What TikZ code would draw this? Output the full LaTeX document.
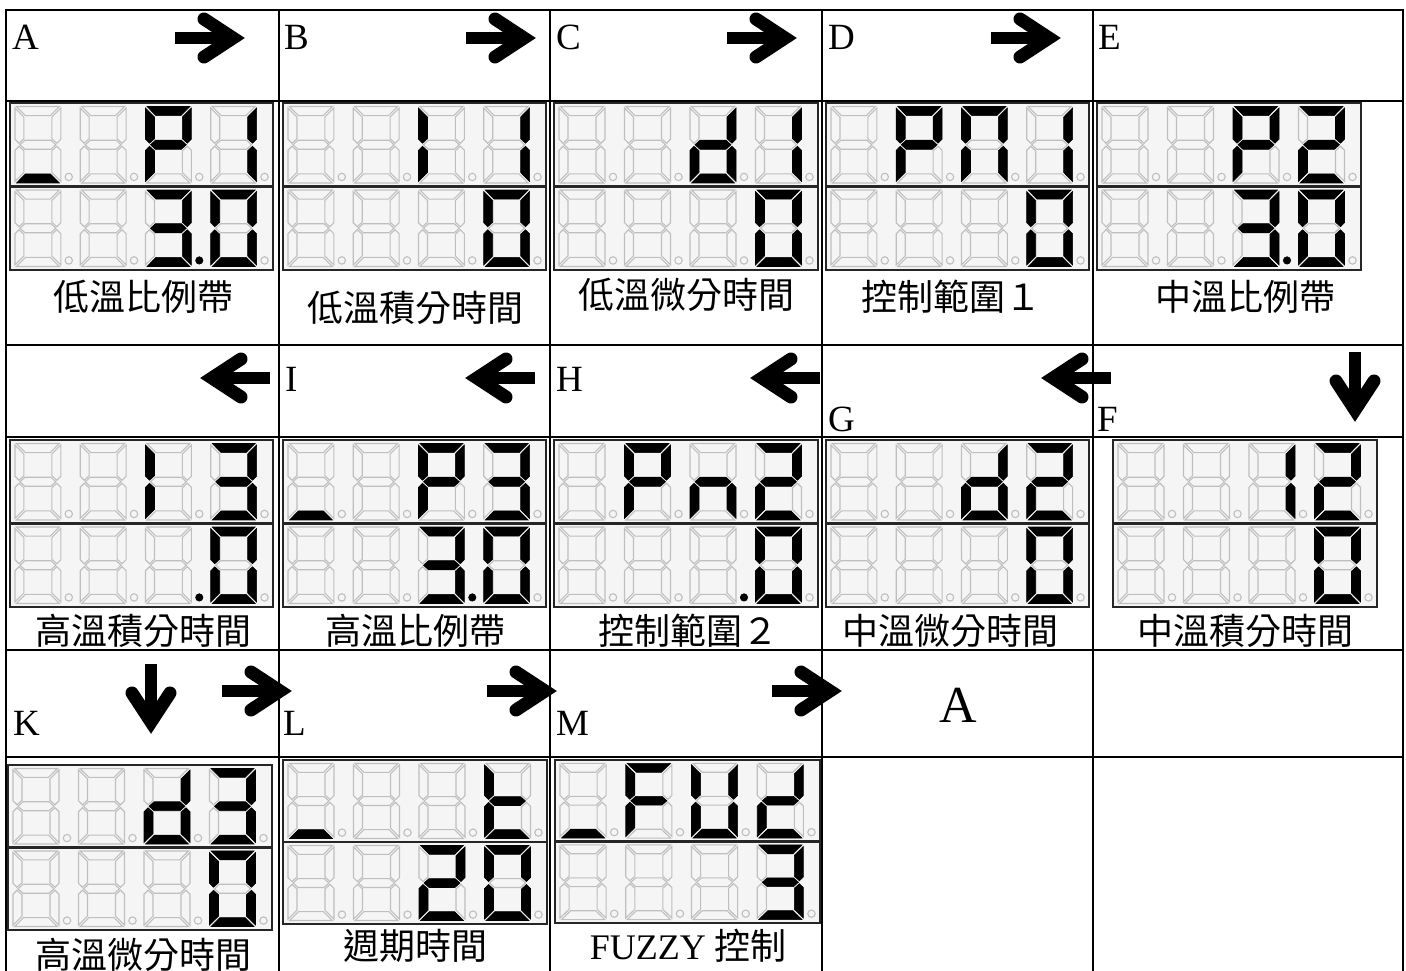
\documentclass[tikz,border=0pt]{standalone}
\usepackage{fontspec}
\setmainfont{Liberation Serif}
\newfontfamily\cjk{Noto Sans CJK TC}
\makeatletter
\newcommand\lcdsg[3]{\in@{#1}{#2}\ifin@\tikzset{segcur/.style={segon}}\else\tikzset{segcur/.style={segoff}}\fi\path[segcur] #3;}
\makeatother
\newcommand\lcddigit[3]{\begin{scope}[shift={(#1,#2)}]
\lcdsg{a}{#3}{(1.5,0)--(44.5,0)--(35.5,9)--(10.5,9)--cycle}
\lcdsg{b}{#3}{(46,1.5)--(37,10.5)--(37,32)--(42,36.5)--(46,32.5)--cycle}
\lcdsg{c}{#3}{(46,74.5)--(37,65.5)--(37,44)--(42,39.5)--(46,43.5)--cycle}
\lcdsg{d}{#3}{(1.5,76)--(44.5,76)--(35.5,67)--(10.5,67)--cycle}
\lcdsg{e}{#3}{(0,74.5)--(9,65.5)--(9,44)--(4,39.5)--(0,43.5)--cycle}
\lcdsg{f}{#3}{(0,1.5)--(9,10.5)--(9,32)--(4,36.5)--(0,32.5)--cycle}
\lcdsg{g}{#3}{(5,38)--(10,33.5)--(36,33.5)--(41,38)--(36,42.5)--(10,42.5)--cycle}
\lcdsg{p}{#3}{(54,70) circle[radius=3.7]}
\end{scope}}
\newcommand\lcdrow[2]{\lcdrowi{#1}#2\relax}
\def\lcdrowi#1#2/#3/#4/#5\relax{\lcddigit{5}{#1}{#2}\lcddigit{70.5}{#1}{#3}\lcddigit{136}{#1}{#4}\lcddigit{201.5}{#1}{#5}}
\newcommand\lcd[6]{\begin{scope}[shift={(#1,#2)},xscale=#3/264,yscale=#4/166]
\path[lcdfill] (0,0) rectangle (264,166);
\lcdrow{3.5}{#5}\lcdrow{86.5}{#6}
\draw[lcdline] (0,83)--(264,83);
\draw[lcdline] (0,0) rectangle (264,166);
\end{scope}}
\tikzset{
  gridline/.style={line width=2.6pt, line cap=rect},
  lcdfill/.style={fill=black!4},
  lcdline/.style={draw=black!85, line width=2.2pt},
  segoff/.style={draw=black!25, line width=1.1pt},
  segon/.style={fill=black, draw=black, line width=0.6pt},
  lbl/.style={font=\fontsize{37}{40}\selectfont, inner sep=0pt, anchor=base west},
  capt/.style={font=\cjk\fontsize{36}{40}\selectfont, inner sep=0pt},
  bigarrow/.pic={
    \path[fill=black] (-71,-6) rectangle (-16,6);
    \draw[line width=13pt, line cap=round, line join=miter, miter limit=10] (-42,-19)--(-13,0)--(-42,19);
  }
}
\begin{document}
\begin{tikzpicture}[x=1pt,y=-1pt]
\useasboundingbox[fill=white] (0,0) rectangle (1406,971);
% grid
\foreach \gx in {6,279,550,822,1093,1403} \draw[gridline] (\gx,10)--(\gx,975);
\foreach \gy in {10,101,345,437,650,757} \draw[gridline] (6,\gy)--(1403,\gy);
% row 1 labels
\node[lbl] (lA) at (12,50) {A};
\node[lbl] (lB) at (284,50) {B};
\node[lbl] (lC) at (556,50) {C};
\node[lbl] (lD) at (828,50) {D};
\node[lbl] (lE) at (1098,50) {E};
\pic at (246,38) {bigarrow};
\pic at (537,38) {bigarrow};
\pic at (798,38) {bigarrow};
\pic at (1062,38) {bigarrow};
% row 1 displays
\lcd{10}{103}{263}{167}{d//abfge/bc}{//abgcdp/abcdef}
\lcd{283}{103}{263}{167}{//fe/bc}{///abcdef}
\lcd{554}{103}{264}{167}{//bcdeg/bc}{///abcdef}
\lcd{826}{103}{263}{167}{/abfge/abcef/bc}{///abcdef}
\lcd{1097}{103}{264}{167}{//abfge/abged}{//abgcdp/abcdef}
\node[capt] (c1) at (143,297) {低溫比例帶};
\node[capt] (c2) at (415,308) {低溫積分時間};
\node[capt] (c3) at (686,295) {低溫微分時間};
\node[capt] (c4) at (951,297) {控制範圍１};
\node[capt] (c5) at (1245,297) {中溫比例帶};
% row 2 header
\node[lbl] (lI) at (285,391) {I};
\node[lbl] (lH) at (556,391) {H};
\node[lbl] (lG) at (828,431) {G};
\node[lbl] (lF) at (1097,431) {F};
\pic[xscale=-1] at (199,378) {bigarrow};
\pic[xscale=-1] at (464,378) {bigarrow};
\pic[xscale=-1] at (749,378) {bigarrow};
\pic[xscale=-1] at (1040,378) {bigarrow};
\pic[rotate=-90] at (1355,423) {bigarrow};
% row 2 displays
\lcd{10}{440}{263}{167}{//fe/abgcd}{//p/abcdef}
\lcd{283}{440}{263}{167}{d//abfge/abgcd}{//abgcdp/abcdef}
\lcd{554}{440}{264}{167}{/abfge/ceg/abged}{//p/abcdef}
\lcd{826}{440}{263}{167}{//bcdeg/abged}{///abcdef}
\lcd{1113}{440}{264}{167}{//bc/abged}{///abcdef}
\node[capt] (c6) at (143,631) {高溫積分時間};
\node[capt] (c7) at (415,631) {高溫比例帶};
\node[capt] (c8) at (688,631) {控制範圍２};
\node[capt] (c9) at (950,631) {中溫微分時間};
\node[capt] (c10) at (1245,631) {中溫積分時間};
% row 3 header
\node[lbl] (lK) at (13,735) {K};
\node[lbl] (lL) at (283,735) {L};
\node[lbl] (lM) at (556,735) {M};
\pic[rotate=-90] at (151,735) {bigarrow};
\pic at (293,691) {bigarrow};
\pic at (558,691) {bigarrow};
\pic at (843,691) {bigarrow};
\node[font=\fontsize{52}{56}\selectfont, inner sep=0pt] (bigA) at (958,705) {A};
% row 3 displays
\lcd{8}{765}{264}{165}{//bcdeg/abgcd}{///abcdef}
\lcd{283}{760}{264}{164}{d///fegd}{//abged/abcdef}
\lcd{555}{760}{265}{163}{d/afge/bcdef/bged}{///abgcd}
\node[capt] (c11) at (143,955) {高溫微分時間};
\node[capt] (c12) at (415,946) {週期時間};
\node[capt] (c13) at (688,946) {{\rmfamily FUZZY}\ 控制};
\end{tikzpicture}
\end{document}
